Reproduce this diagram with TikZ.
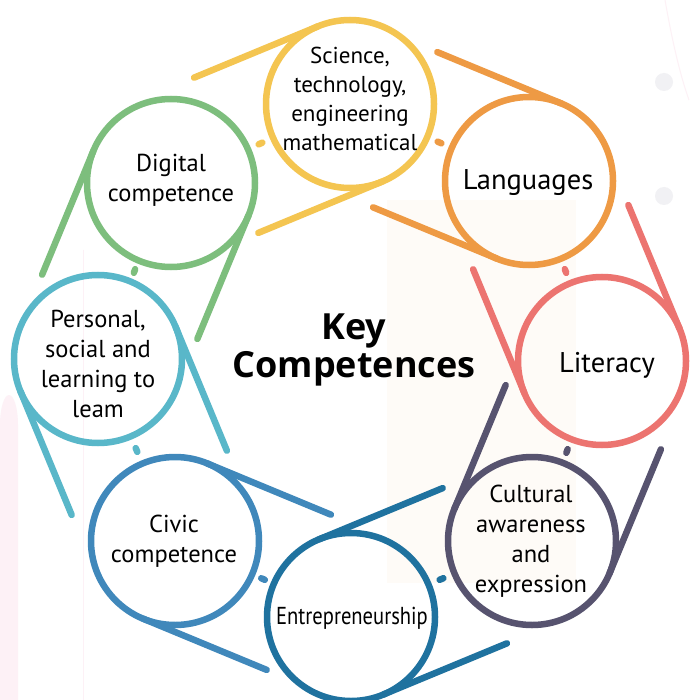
\documentclass[tikz,border=0pt]{standalone}
\usepackage{fontspec}
\setmainfont{PT Sans}
\newfontfamily\titlefont{Open Sans}
\usetikzlibrary{calc}
\definecolor{cSci}{HTML}{F4C551}
\definecolor{cLan}{HTML}{EE9A44}
\definecolor{cLit}{HTML}{EC7470}
\definecolor{cCul}{HTML}{57536F}
\definecolor{cEnt}{HTML}{1F729F}
\definecolor{cCiv}{HTML}{4088BB}
\definecolor{cPer}{HTML}{59B7C9}
\definecolor{cDig}{HTML}{7DBE7D}
\definecolor{bgBeige}{HTML}{FEFBF7}
\definecolor{bgPink}{HTML}{FDF1F6}
\definecolor{bgGray}{HTML}{F1F1F4}
\begin{document}
\begin{tikzpicture}[x=1pt,y=1pt,
  ring/.style={circle, draw, line width=6.5pt, minimum size=168pt, inner sep=0pt},
  tail/.style={line width=6.5pt, line cap=round},
  lbl/.style={align=center, inner sep=0pt, text=black},
  midtxt/.style={lbl, font=\fontsize{24.5}{30}\selectfont},
  scitxt/.style={lbl, font=\fontsize{23}{29}\selectfont},
  bigtxt/.style={lbl, font=\fontsize{28.5}{33}\selectfont}]
\useasboundingbox (0,0) rectangle (689,-700);
\fill[white] (0,0) rectangle (689,-700);
% faint background
\fill[bgBeige] (387,-200) rectangle (576,-583);
\fill[bgPink] (0,-700) -- (0,-425) arc[start angle=180, end angle=0, x radius=9, y radius=30] -- (18,-700) -- cycle;
\draw[bgPink, line width=1pt] (83,-250) -- (83,-700);
\draw[bgPink, line width=1pt] (665,0) .. controls (672,-40) and (680,-75) .. (689,-100);
\fill[bgGray] (664,-82) circle[radius=9];
\fill[bgGray] (664,-196) circle[radius=9];
% circles
\node[ring, draw=cSci] (Sci) at (350,-104) {};
\node[ring, draw=cLan] (Lan) at (529,-181) {};
\node[ring, draw=cLit] (Lit) at (602,-361) {};
\node[ring, draw=cCul] (Cul) at (532,-541) {};
\node[ring, draw=cEnt] (Ent) at (351,-617) {};
\node[ring, draw=cCiv] (Civ) at (175,-541) {};
\node[ring, draw=cPer] (Per) at (98,-359) {};
\node[ring, draw=cDig] (Dig) at (171,-183) {};
% labels
\node[scitxt] (SciT) at (350,-99) {Science,\\technology,\\engineering\\mathematical};
\node[bigtxt] (LanT) at (528,-183) {Languages};
\node[bigtxt] (LitT) at (607,-365) {Literacy};
\node[midtxt] (CulT) at (531,-541) {Cultural\\awareness\\and\\expression};
\node[midtxt] (EntT) at (352,-618) {\scalebox{0.84}[1]{Entrepreneurship}};
\node[midtxt] (CivT) at (174,-541) {Civic\\competence};
\node[midtxt] (PerT) at (98,-364) {Personal,\\social and\\learning to\\leam};
\node[midtxt] (DigT) at (171,-180) {Digital\\competence};
% tails and dashes
\foreach \n/\m/\t/\c in {Sci/Dig/90/cSci, Lan/Sci/45/cLan, Lit/Lan/0/cLit, Cul/Lit/-45/cCul, Ent/Cul/-90/cEnt, Civ/Ent/-135/cCiv, Per/Civ/180/cPer, Dig/Per/135/cDig}{
  \pgfmathsetmacro{\dir}{\t+112.5}
  \draw[tail, \c] ($(\n.center)+(\dir+90:84)$) -- ++(\dir:134);
  \draw[tail, \c] ($(\n.center)+(\dir-90:84)$) -- ++(\dir:134);
  \draw[tail, \c] ($(\n.center)!0.49!(\m.center)$) -- ($(\n.center)!0.51!(\m.center)$);
}
% title
\node[font=\titlefont\bfseries\fontsize{36}{38}\selectfont, align=center] (title) at (354,-350) {Key\\Competences};
\end{tikzpicture}
\end{document}
